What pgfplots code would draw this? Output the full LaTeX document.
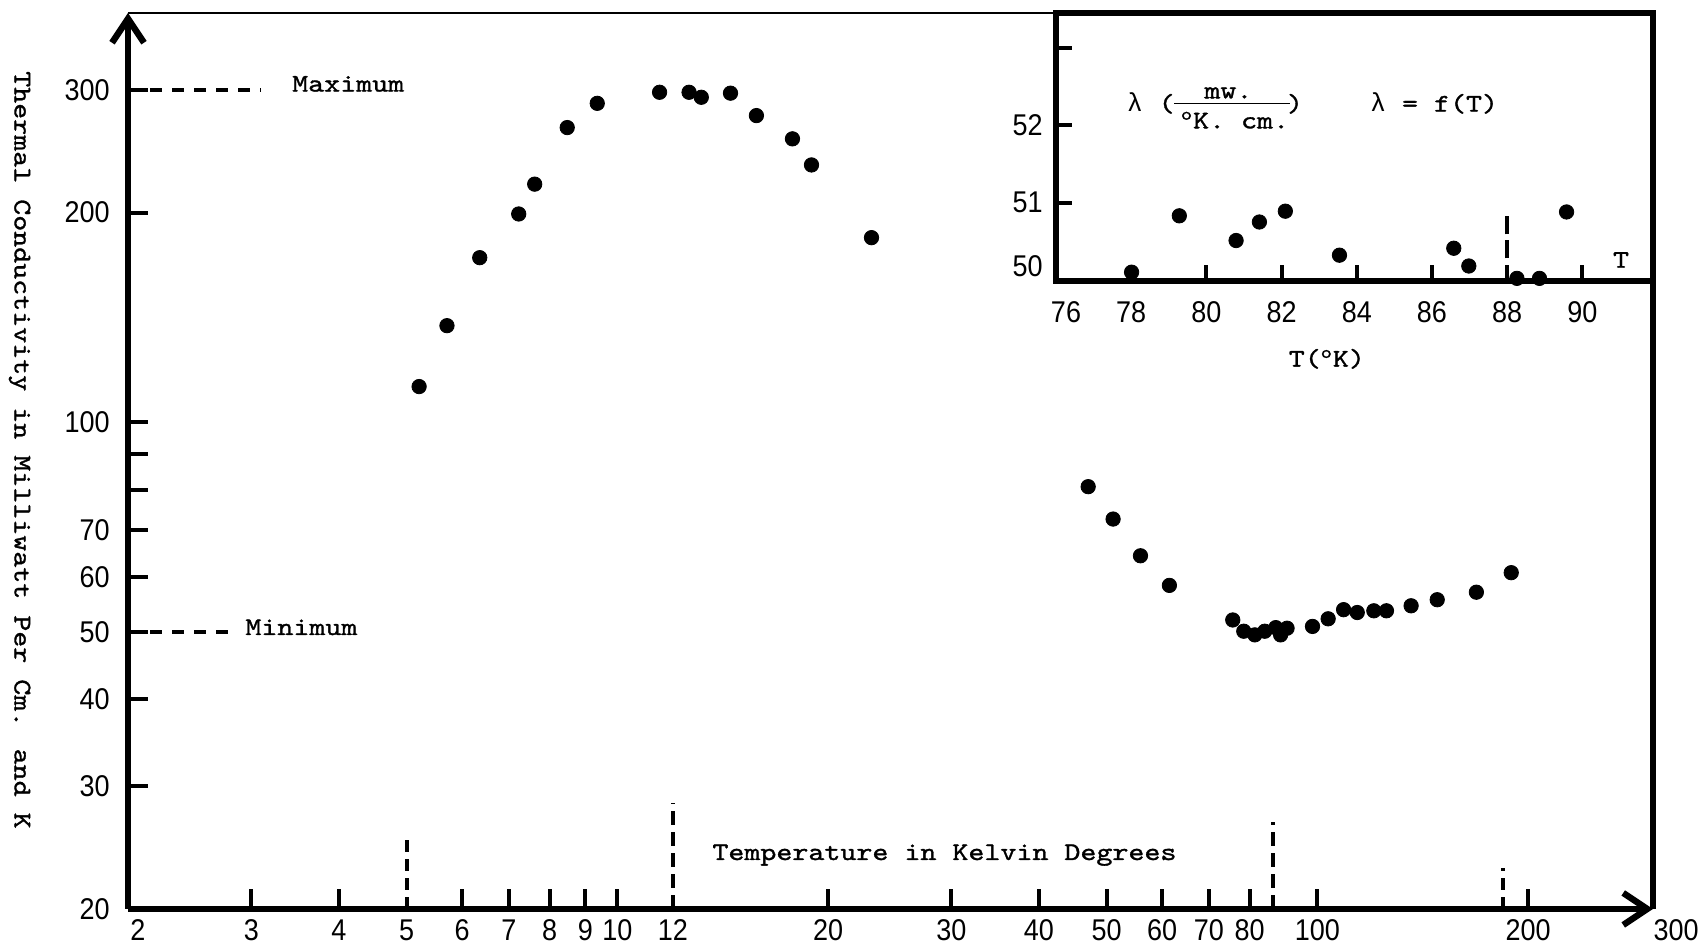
\documentclass[border=0pt]{standalone}
\usepackage{fontspec}
\usepackage{pgfplots}
\pgfplotsset{compat=1.18}
\usetikzlibrary{arrows.meta}
\newfontfamily\numfont{Liberation Sans}[FakeStretch=0.9]
\newfontfamily\tw{lmmono10-regular.otf}[FakeStretch=1.2,FakeBold=1.3]
\newfontfamily\gk{Liberation Mono}
\newcommand\nf{\fontsize{15}{16}\selectfont\numfont}
\newcommand\tf{\fontsize{12.7}{14}\selectfont\tw}
\newcommand\lam{{\fontsize{13}{14}\selectfont\gk λ}}

\pgfplotstableread{
T lam
5.21 112.5
5.71 137.6
6.36 172.3
7.23 199.1
7.62 219.7
8.48 264.9
9.36 287.0
11.49 297.7
12.66 297.7
13.18 292.8
14.51 296.8
15.80 275.6
17.79 255.2
18.94 234.1
23.07 184.1
47.05 80.8
51.07 72.6
55.88 64.3
61.46 58.3
75.7 52.0
78.5 50.1
81.4 49.5
84.1 50.1
87.2 50.7
88.6 49.5
90.5 50.6
98.4 50.9
103.6 52.2
109.0 53.8
114.0 53.3
120.4 53.6
125.5 53.6
136.1 54.5
148.3 55.6
168.7 57.0
189.2 60.8
}\maindata

\pgfplotstableread{
T lam
78.01 50.10
79.28 50.83
80.79 50.51
81.41 50.75
82.10 50.89
83.54 50.32
86.58 50.41
86.98 50.18
88.26 50.02
88.86 50.02
89.58 50.88
}\insetdata

\begin{document}
\begin{tikzpicture}
\begin{axis}[
  at={(64pt,18pt)}, anchor=south west,
  scale only axis, width=762.5pt, height=448pt,
  xmode=log, ymode=log,
  xmin=2, xmax=301.6, ymin=20, ymax=387,
  axis lines=left,
  axis line style={line width=3.2pt, -{Straight Barb[length=12pt,width=16pt]}},
  xtick={3,4,6,7,8,9,10,20,30,40,50,60,70,80,100,200},
  xticklabels={3,4,6,7,8,9,10,20,30,40,50,60,70,80,100,200},
  extra x ticks={5,12},
  extra x tick labels={5,12},
  extra x tick style={major tick length=0pt},
  ytick={20,30,40,50,60,70,80,90,100,200,300},
  yticklabels={20,30,40,50,60,70,,,100,200,300},
  xminorticks=false, yminorticks=false,
  tick align=inside,
  major tick length=10pt,
  tick style={line width=2pt, black},
  tick label style={font=\nf, inner sep=0pt},
  xticklabel style={yshift=-5pt},
  yticklabel style={xshift=-9pt},
  clip=false,
]
\addplot[only marks, mark=*, mark size=3.6pt, black] table[x=T, y=lam] {\maindata};
\draw[line width=1.3pt] (rel axis cs:0,1) -- (rel axis cs:1,1);
\draw[line width=3pt] (rel axis cs:1,1) -- (rel axis cs:1,0);
\draw[line width=2pt, dash pattern=on 6pt off 5pt] (axis cs:2,300) -- (axis cs:3.10,300);
\draw[line width=2pt, dash pattern=on 6pt off 5pt] (axis cs:2,50) -- (axis cs:2.806,50);
\draw[line width=2pt, dash pattern=on 6pt off 3.5pt] (axis cs:5,20) -- (axis cs:5,25.1);
\draw[line width=2pt, dash pattern=on 7pt off 3.5pt] (axis cs:12,20) -- (axis cs:12,28.4);
\draw[line width=2pt, dash pattern=on 7pt off 3.5pt] (axis cs:86.5,20) -- (axis cs:86.5,26.7);
\draw[line width=2pt, dash pattern=on 6pt off 3.5pt] (axis cs:184,20) -- (axis cs:184,22.9);
\end{axis}

\begin{axis}[
  at={(528pt,332pt)}, anchor=south west,
  scale only axis, width=298.5pt, height=134pt,
  xmin=76, xmax=91.88, ymin=49.986, ymax=53.457,
  axis line style={line width=3pt},
  xtick pos=bottom, ytick pos=left,
  xtick={78,80,...,90},
  xticklabels={78,80,82,84,86,88,90},
  extra x ticks={76},
  extra x tick labels={76},
  extra x tick style={major tick length=0pt, xticklabel style={xshift=5pt}},
  ytick={51,52,53},
  yticklabels={51,52,},
  tick align=inside,
  major tick length=8pt,
  tick style={line width=2pt, black},
  tick label style={font=\nf, inner sep=0pt},
  xticklabel style={yshift=-10.3pt},
  yticklabel style={xshift=-6.5pt},
  clip=false,
]
\addplot[only marks, mark=*, mark size=3.6pt, black] table[x=T, y=lam] {\insetdata};
\draw[line width=2pt, dash pattern=on 9pt off 3pt] (axis cs:88,50.28) -- (axis cs:88,50.88);
\end{axis}

% text
\node[rotate=-90, font=\tf] at (9.8pt,247.5pt) {Thermal Conductivity in Milliwatt Per Cm. and K};
\node[anchor=base west, font=\tf, inner sep=0pt] at (145.9pt,426.7pt) {Maximum};
\node[anchor=base west, font=\tf, inner sep=0pt] at (122.5pt,155pt) {Minimum};
\node[anchor=base west, font=\tf, inner sep=0pt] at (356pt,42.5pt) {Temperature in Kelvin Degrees};
\node[anchor=north, font=\nf, inner sep=0pt] at (68.9pt,13pt) {2};
\node[anchor=north, font=\nf, inner sep=0pt] at (838pt,13pt) {300};
\node[anchor=east, font=\nf, inner sep=0pt] at (521.5pt,339.5pt) {50};
% inset texts
\node[anchor=base, font=\tf, inner sep=0pt] at (567.5pt,416.7pt) {\lam};
\node[anchor=base, font=\tf, inner sep=0pt] at (583.3pt,416.7pt) {(};
\node[anchor=base, font=\tf, inner sep=0pt] at (647.5pt,416.7pt) {)};
\draw[line width=0.8pt] (587pt,420.8pt) -- (645pt,420.8pt);
\node[anchor=base, font=\tf, inner sep=0pt] at (614.2pt,423.3pt) {mw.};
\node[anchor=base, font=\tf, inner sep=0pt] at (617.5pt,408.3pt) {\textsuperscript{o}K.\ cm.};
\node[anchor=base west, font=\tf, inner sep=0pt] at (685pt,416.7pt) {\lam{} = f(T)};
\node[font=\tf, inner sep=0pt] at (810.5pt,342.5pt) {T};
\node[anchor=base, font=\tf, inner sep=0pt] at (663.4pt,289.2pt) {T(\textsuperscript{o}K)};

\pgfresetboundingbox
\path[use as bounding box] (0,0) rectangle (850.5pt,472.5pt);
\end{tikzpicture}
\end{document}
